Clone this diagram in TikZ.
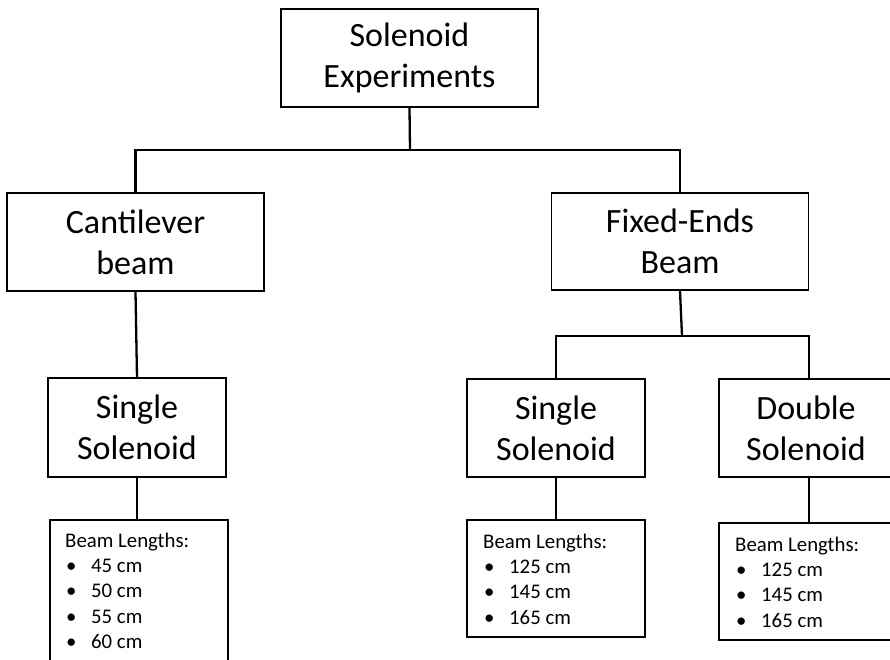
\documentclass[tikz,border=0pt]{standalone}
\usepackage{fontspec}
\setmainfont{Carlito}
\begin{document}
\begin{tikzpicture}[x=1pt,y=-1pt,
  bigbox/.style={draw=black,line width=1.6pt,inner sep=0pt,align=center,
    font=\fontsize{34}{41}\selectfont},
  bigtext/.style={inner sep=0pt,align=center,font=\fontsize{34}{41}\selectfont},
  listbox/.style={draw=black,line width=1.6pt,inner sep=0pt,minimum width=178pt},
  listtext/.style={inner sep=0pt,anchor=base west,font=\fontsize{20.8}{25.4}\selectfont},
  conn/.style={draw=black,line width=2.3pt}]
\useasboundingbox (0,0) rectangle (890,660);
\clip (0,0) rectangle (890,660);
\newcommand{\bl}{\makebox[26pt][l]{\hspace{1pt}\textbullet}}
% level boxes
\node[bigbox,minimum width=257pt,minimum height=98pt] (top) at (409.5,58) {Solenoid\\Experiments};
\node[bigbox,minimum width=257pt,minimum height=98pt] (cant) at (135.5,242) {Cantilever\\beam};
\node[bigbox,minimum width=257pt,minimum height=97pt] (fixed) at (680,241.5) {Fixed-Ends\\Beam};
\node[bigbox,minimum width=178pt,minimum height=99pt] (single1) at (137,427.5) {Single\\Solenoid};
\node[bigbox,minimum width=178pt,minimum height=98pt] (single2) at (556,428) {Single\\Solenoid};
\node[bigbox,minimum width=200pt,minimum height=98pt] (double) at (819,428) {};
\node[bigtext] (dtext) at (806,428) {Double\\Solenoid};
% list boxes
\node[listbox,minimum height=160pt] (beam1) at (139,600) {};
\node[listbox,minimum height=117pt] (beam2) at (556,578.5) {};
\node[listbox,minimum width=200pt,minimum height=117pt] (beam3) at (819,581.5) {};
\node[listtext] (t1) at (65,547) {\begin{tabular}[t]{@{}l@{}l@{}}\multicolumn{2}{@{}l@{}}{Beam Lengths:}\\ \bl & 45 cm\\ \bl & 50 cm\\ \bl & 55 cm\\ \bl & 60 cm\end{tabular}};
\node[listtext] (t2) at (483,548) {\begin{tabular}[t]{@{}l@{}l@{}}\multicolumn{2}{@{}l@{}}{Beam Lengths:}\\ \bl & 125 cm\\ \bl & 145 cm\\ \bl & 165 cm\end{tabular}};
\node[listtext] (t3) at (735,551) {\begin{tabular}[t]{@{}l@{}l@{}}\multicolumn{2}{@{}l@{}}{Beam Lengths:}\\ \bl & 125 cm\\ \bl & 145 cm\\ \bl & 165 cm\end{tabular}};
% connectors
\coordinate (bus1) at (410,150);
\coordinate (bus2) at (682,336);
\coordinate (dtop) at ([xshift=-10pt]double.north);
\coordinate (dbot) at ([xshift=-10pt]double.south);
\draw[conn] (top.south) -- (bus1);
\draw[conn] (cant.north) |- (bus1) -| (fixed.north);
\draw[conn] (cant.south) -- (single1.north);
\draw[conn] (single1.south) -- (single1.south |- beam1.north);
\draw[conn] (fixed.south) -- (bus2);
\draw[conn] (single2.north) |- (bus2) -| (dtop);
\draw[conn] (single2.south) -- (beam2.north);
\draw[conn] (dbot) -- (dbot |- beam3.north);
\end{tikzpicture}
\end{document}
